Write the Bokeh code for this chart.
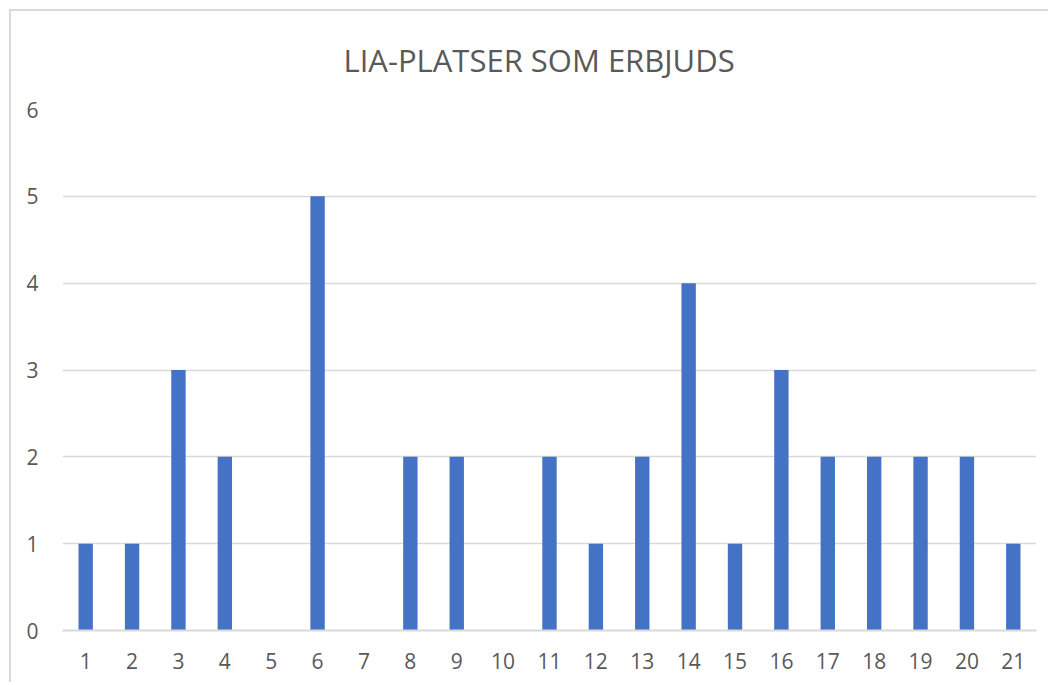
from bokeh.plotting import figure
from bokeh.models import FactorRange, FixedTicker, ColumnDataSource
from bokeh.embed import file_html
from bokeh.resources import INLINE

categories = [str(i) for i in range(1, 22)]
values = [1, 1, 3, 2, 0, 5, 0, 2, 2, 0, 2, 1, 2, 4, 1, 3, 2, 2, 2, 2, 1]
y_ticks = [0, 1, 2, 3, 4, 5, 6]
title_text = "LIA-PLATSER SOM ERBJUDS"

src = ColumnDataSource(dict(cat=categories, val=values))

p = figure(width=1039, height=673, x_range=FactorRange(*categories, range_padding=0),
           y_range=(0, 6), output_backend="svg", toolbar_location=None,
           min_border_left=51, min_border_right=14, min_border_top=98, min_border_bottom=54,
           styles={"margin-left": "9px", "margin-top": "9px",
                   "border-top": "2px solid #d9d9d9", "border-left": "2px solid #d9d9d9"})

p.vbar(x="cat", top="val", width=0.31, source=src, color="#4472C4", line_color=None)

p.title.text = title_text
p.title.align = "left"
p.title.vertical_align = "top"
p.title.text_font = "Open Sans"
p.title.text_font_size = "31px"
p.title.text_font_style = "normal"
p.title.text_color = "#595959"
p.title.offset = 281
p.title.standoff = 54

p.outline_line_color = None
p.xgrid.grid_line_color = None
p.ygrid.grid_line_color = "#d9d9d9"
p.ygrid.grid_line_width = 1.5
p.yaxis.ticker = FixedTicker(ticks=y_ticks)
p.yaxis.axis_line_color = None
p.yaxis.major_tick_line_color = None
p.yaxis.minor_tick_line_color = None
p.yaxis.major_tick_out = 0
p.yaxis.major_label_standoff = 24
p.xaxis.axis_line_color = "#d9d9d9"
p.xaxis.axis_line_width = 2
p.xaxis.major_tick_line_color = None
p.xaxis.major_tick_out = 0
p.xaxis.major_label_standoff = 22
for ax in (p.xaxis, p.yaxis):
    ax.major_label_text_font = "Open Sans"
    ax.major_label_text_font_size = "21px"
    ax.major_label_text_color = "#595959"

open("out.html", "w").write(file_html(p, INLINE))
